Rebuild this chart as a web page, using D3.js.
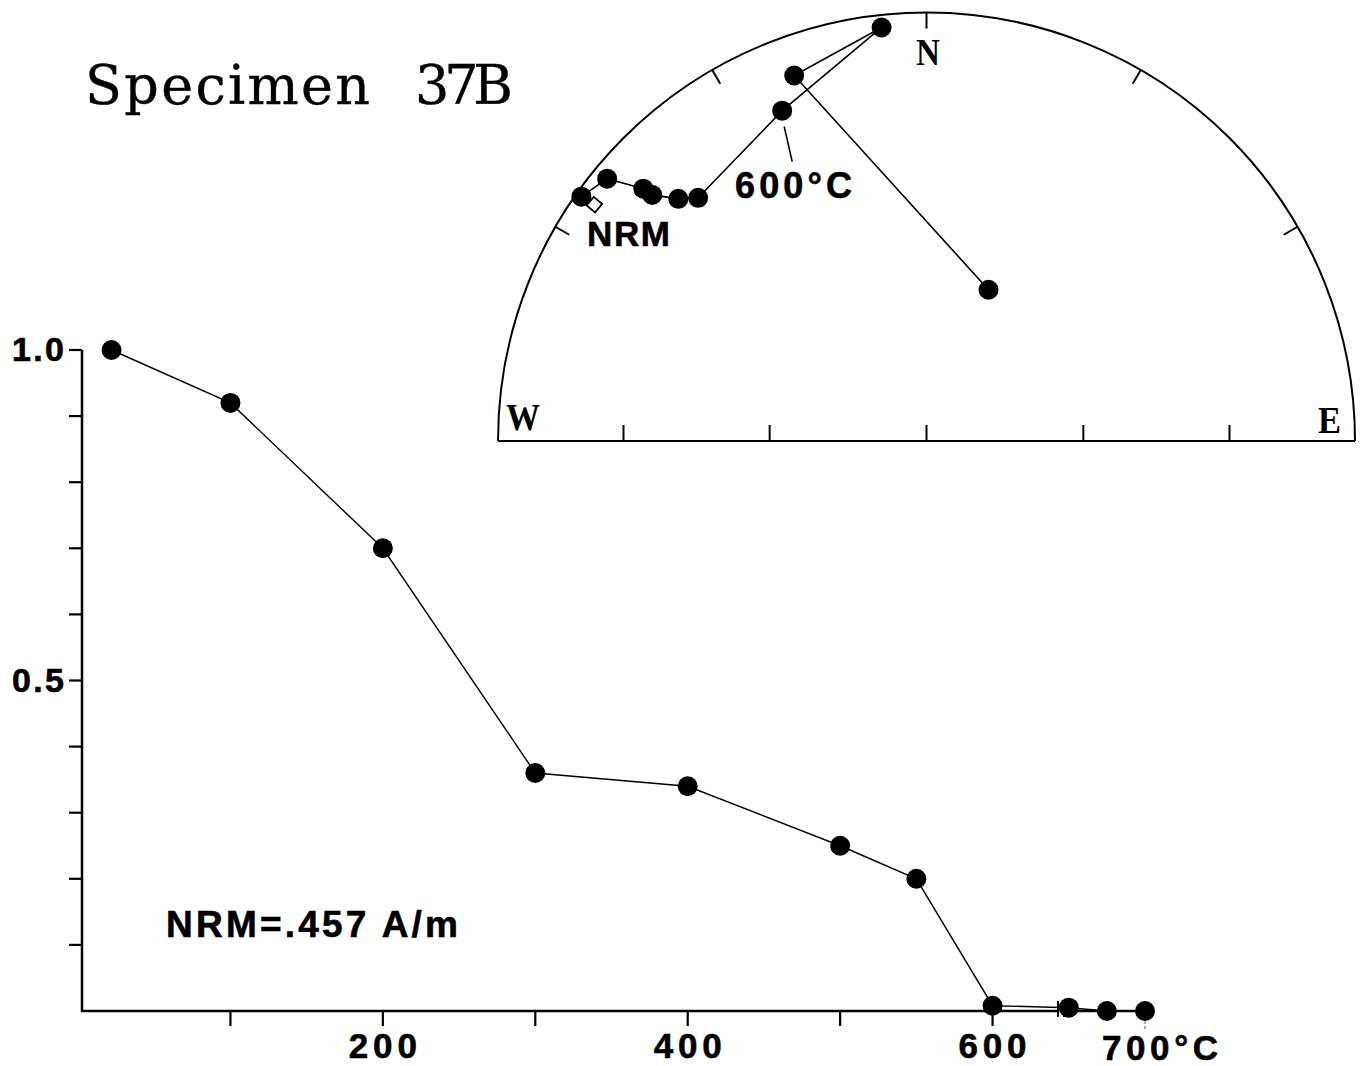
<!DOCTYPE html>
<html lang="en">
<head>
    <meta charset="UTF-8">
    <title>Specimen 37B - thermal demagnetization</title>
    <script src="https://d3js.org/d3.v7.min.js"></script>
    <style>
        body {
            margin: 0;
            background: white;
        }
        svg {
            background-color: white;
            display: block;
        }
        .lbl {
            font-family: "Liberation Sans", Arial, sans-serif;
            font-weight: bold;
            fill: black;
            stroke: black;
            stroke-width: 0.6;
        }
        .dir {
            font-family: "Liberation Serif", "Times New Roman", serif;
            font-weight: bold;
            fill: black;
        }
        .title {
            font-family: "DejaVu Serif", serif;
            fill: black;
            stroke: black;
            stroke-width: 0.4;
        }
    </style>
</head>
<body>
    <script>
        // demagnetization curve (normalised intensity vs temperature)
        const temps = [22, 100, 200, 300, 400, 500, 550, 600, 650, 675, 700];
        const intensity = [1.0, 0.92, 0.70, 0.36, 0.34, 0.25, 0.20, 0.008, 0.005, 0.0, 0.0];

        const xTicks = [100, 200, 300, 400, 500, 600, 700];
        const xTickLabels = [{v: 200, t: '200'}, {v: 400, t: '400'}, {v: 600, t: '600'}];
        const yTicks = [0.1, 0.2, 0.3, 0.4, 0.5, 0.6, 0.7, 0.8, 0.9, 1.0];
        const yTickLabels = [{v: 1.0, t: '1.0'}, {v: 0.5, t: '0.5'}];

        // stereonet directions, in plotting order (declination, inclination)
        const decl = [305.3, 309.4, 311.7, 311.9, 314.3, 316.8, 336.4, 353.8, 340.1, 22.3];
        const incl = [1.5, 4.0, 12.5, 15.1, 20.2, 23.2, 17.0, 3.3, 10.2, 58.7];

        const netDecTicks = [300, 330, 0, 30, 60];
        const netIncTicks = [30, 60, 90];

        const width = 1362;
        const height = 1066;

        const svg = d3.select('body')
                      .append('svg')
                      .attr('width', width)
                      .attr('height', height);

        // ---------- demag curve ----------
        const xScale = d3.scaleLinear()
                         .domain([0, 700])
                         .range([78, 1145]);

        const yScale = d3.scaleLinear()
                         .domain([0, 1])
                         .range([1011, 350]);

        const axisX0 = 82;
        const axisY0 = yScale(0);

        // y axis
        svg.append('line')
           .attr('x1', axisX0).attr('x2', axisX0)
           .attr('y1', yScale(1)).attr('y2', axisY0 + 1)
           .attr('stroke', 'black').attr('stroke-width', 2.5);

        svg.selectAll('.ytick')
           .data(yTicks)
           .join('line')
           .attr('class', 'ytick')
           .attr('x1', axisX0 - 13).attr('x2', axisX0)
           .attr('y1', d => yScale(d)).attr('y2', d => yScale(d))
           .attr('stroke', 'black').attr('stroke-width', 2.2);

        svg.selectAll('.ylab')
           .data(yTickLabels)
           .join('text')
           .attr('class', 'lbl ylab')
           .attr('x', 64)
           .attr('y', d => yScale(d.v) + 11)
           .attr('text-anchor', 'end')
           .attr('font-size', 34)
           .attr('textLength', 52)
           .attr('lengthAdjust', 'spacing')
           .text(d => d.t);

        // x axis, broken just after 600
        const breakX = [1058, 1064];
        svg.append('line')
           .attr('x1', axisX0 - 1).attr('x2', breakX[0])
           .attr('y1', axisY0).attr('y2', axisY0)
           .attr('stroke', 'black').attr('stroke-width', 2.5);
        svg.append('line')
           .attr('x1', breakX[1]).attr('x2', xScale(700) + 2)
           .attr('y1', axisY0).attr('y2', axisY0)
           .attr('stroke', 'black').attr('stroke-width', 2.5);
        svg.selectAll('.brk')
           .data(breakX)
           .join('line')
           .attr('class', 'brk')
           .attr('x1', d => d).attr('x2', d => d)
           .attr('y1', axisY0 - 10).attr('y2', axisY0 + 6)
           .attr('stroke', 'black').attr('stroke-width', 2);

        svg.selectAll('.xtick')
           .data(xTicks)
           .join('line')
           .attr('class', 'xtick')
           .attr('x1', d => xScale(d)).attr('x2', d => xScale(d))
           .attr('y1', axisY0).attr('y2', d => axisY0 + (d === 700 ? 18 : 15))
           .attr('stroke', d => d === 700 ? '#777' : 'black')
           .attr('stroke-dasharray', d => d === 700 ? '3,2' : null)
           .attr('stroke-width', d => d === 700 ? 1.2 : 2.2);

        svg.selectAll('.xlab')
           .data(xTickLabels)
           .join('text')
           .attr('class', 'lbl xlab')
           .attr('x', d => xScale(d.v))
           .attr('y', 1058)
           .attr('text-anchor', 'middle')
           .attr('font-size', 35)
           .attr('textLength', 68)
           .attr('lengthAdjust', 'spacing')
           .text(d => d.t);

        svg.append('text')
           .attr('class', 'lbl')
           .attr('x', xScale(700) - 43)
           .attr('y', 1060)
           .attr('font-size', 35)
           .attr('textLength', 116)
           .attr('lengthAdjust', 'spacing')
           .text('700°C');

        const demag = temps.map((t, i) => ({t: t, v: intensity[i]}));

        svg.append('path')
           .datum(demag)
           .attr('fill', 'none')
           .attr('stroke', 'black')
           .attr('stroke-width', 1.4)
           .attr('d', d3.line().x(d => xScale(d.t)).y(d => yScale(d.v)));

        svg.selectAll('.dpt')
           .data(demag)
           .join('circle')
           .attr('class', 'dpt')
           .attr('cx', d => xScale(d.t))
           .attr('cy', d => yScale(d.v))
           .attr('r', 10)
           .attr('fill', 'black');

        svg.append('text')
           .attr('class', 'lbl')
           .attr('x', 166)
           .attr('y', 937)
           .attr('font-size', 37)
           .attr('textLength', 292)
           .attr('lengthAdjust', 'spacing')
           .text('NRM=.457 A/m');

        // ---------- title ----------
        svg.append('text')
           .attr('class', 'title')
           .attr('x', 85)
           .attr('y', 104)
           .attr('font-size', 54)
           .attr('textLength', 285)
           .attr('lengthAdjust', 'spacing')
           .text('Specimen');
        svg.append('text')
           .attr('class', 'title')
           .attr('x', 415)
           .attr('y', 104)
           .attr('font-size', 54)
           .attr('textLength', 98)
           .attr('lengthAdjust', 'spacing')
           .text('37B');

        // ---------- equal-area stereonet (upper half) ----------
        const cx = 926.5, cy = 441, R = 428.5;
        // equal area: r = R * sqrt(1 - sin(inc))
        const rScale = d3.scaleSqrt().domain([0, 1]).range([0, R]);
        const rad = Math.PI / 180;
        const proj = (dec, inc) => {
            const r = rScale(1 - Math.sin(inc * rad));
            return [cx + r * Math.sin(dec * rad), cy - r * Math.cos(dec * rad)];
        };

        const net = svg.append('g');

        net.append('path')
           .attr('d', d3.arc()
                .innerRadius(R).outerRadius(R)
                .startAngle(-Math.PI / 2).endAngle(Math.PI / 2)())
           .attr('transform', `translate(${cx},${cy})`)
           .attr('fill', 'none')
           .attr('stroke', 'black')
           .attr('stroke-width', 2);

        net.append('line')
           .attr('x1', cx - R).attr('x2', cx + R)
           .attr('y1', cy).attr('y2', cy)
           .attr('stroke', 'black').attr('stroke-width', 2);

        // ticks on the rim, pointing inward
        net.selectAll('.rimtick')
           .data(netDecTicks)
           .join('line')
           .attr('class', 'rimtick')
           .attr('x1', d => proj(d, 0)[0])
           .attr('y1', d => proj(d, 0)[1])
           .attr('x2', d => cx + (R - 16) * Math.sin(d * rad))
           .attr('y2', d => cy - (R - 16) * Math.cos(d * rad))
           .attr('stroke', 'black').attr('stroke-width', 2);

        // ticks on the E-W line
        const ewTicks = [];
        netIncTicks.forEach(inc => {
            ewTicks.push(proj(270, inc)[0]);
            if (inc !== 90) ewTicks.push(proj(90, inc)[0]);
        });
        net.selectAll('.ewtick')
           .data(ewTicks)
           .join('line')
           .attr('class', 'ewtick')
           .attr('x1', d => d).attr('x2', d => d)
           .attr('y1', cy).attr('y2', cy - 16)
           .attr('stroke', 'black').attr('stroke-width', 2);

        net.append('text').attr('class', 'dir')
           .attr('x', 506).attr('y', 430)
           .attr('font-size', 38)
           .attr('textLength', 34).attr('lengthAdjust', 'spacingAndGlyphs')
           .text('W');
        net.append('text').attr('class', 'dir')
           .attr('x', 916).attr('y', 65)
           .attr('font-size', 37)
           .attr('textLength', 24).attr('lengthAdjust', 'spacingAndGlyphs')
           .text('N');
        net.append('text').attr('class', 'dir')
           .attr('x', 1318).attr('y', 433)
           .attr('font-size', 37)
           .attr('textLength', 23).attr('lengthAdjust', 'spacingAndGlyphs')
           .text('E');

        const dirs = decl.map((d, i) => proj(d, incl[i]));

        net.append('path')
           .datum(dirs)
           .attr('fill', 'none')
           .attr('stroke', 'black')
           .attr('stroke-width', 1.6)
           .attr('d', d3.line());

        // NRM open diamond marker
        const nrm = dirs[0];
        net.append('rect')
           .attr('x', -5.5).attr('y', -5.5)
           .attr('width', 11).attr('height', 11)
           .attr('transform', `translate(${nrm[0] + 13},${nrm[1] + 8}) rotate(40)`)
           .attr('fill', 'white')
           .attr('stroke', 'black')
           .attr('stroke-width', 1.8);

        net.selectAll('.spt')
           .data(dirs)
           .join('circle')
           .attr('class', 'spt')
           .attr('cx', d => d[0])
           .attr('cy', d => d[1])
           .attr('r', 10)
           .attr('fill', 'black');

        net.append('text')
           .attr('class', 'lbl')
           .attr('x', 587).attr('y', 246)
           .attr('font-size', 35)
           .attr('textLength', 83).attr('lengthAdjust', 'spacing')
           .text('NRM');

        // 600°C annotation with leader
        const p600 = dirs[6];
        net.append('line')
           .attr('x1', p600[0] + 2).attr('y1', p600[1] + 16)
           .attr('x2', p600[0] + 10).attr('y2', p600[1] + 51)
           .attr('stroke', 'black').attr('stroke-width', 1.6);
        net.append('text')
           .attr('class', 'lbl')
           .attr('x', 735).attr('y', 198)
           .attr('font-size', 36)
           .attr('textLength', 117).attr('lengthAdjust', 'spacing')
           .text('600°C');
    </script>
</body>
</html>
